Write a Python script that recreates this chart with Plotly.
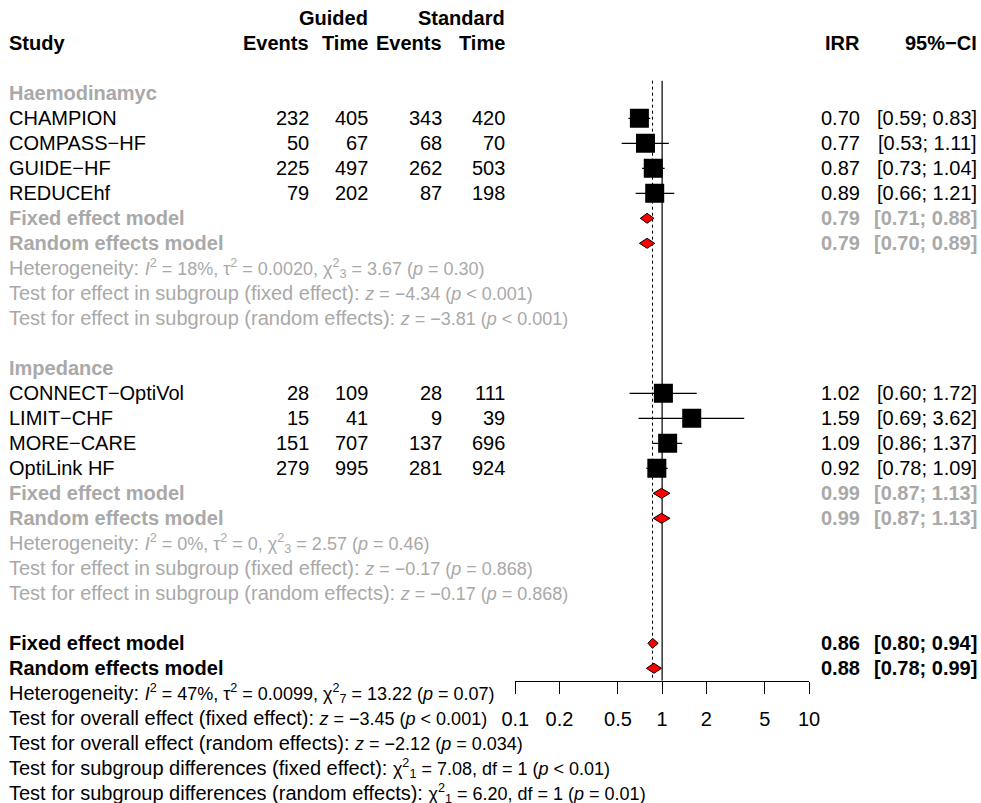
import plotly.graph_objects as go

# ---------------- data ----------------
studies = ["CHAMPION", "COMPASS−HF", "GUIDE−HF", "REDUCEhf",
           "CONNECT−OptiVol", "LIMIT−CHF", "MORE−CARE", "OptiLink HF"]
subgroup = ["Haemodinamyc"] * 4 + ["Impedance"] * 4
events_guided = [232, 50, 225, 79, 28, 15, 151, 279]
time_guided = [405, 67, 497, 202, 109, 41, 707, 995]
events_standard = [343, 68, 262, 87, 28, 9, 137, 281]
time_standard = [420, 70, 503, 198, 111, 39, 696, 924]
irr = [0.70, 0.77, 0.87, 0.89, 1.02, 1.59, 1.09, 0.92]
ci_low = [0.59, 0.53, 0.73, 0.66, 0.60, 0.69, 0.86, 0.78]
ci_high = [0.83, 1.11, 1.04, 1.21, 1.72, 3.62, 1.37, 1.09]

subgroups = ["Haemodinamyc", "Impedance"]
sub_fixed = [(0.79, 0.71, 0.88), (0.99, 0.87, 1.13)]
sub_random = [(0.79, 0.70, 0.89), (0.99, 0.87, 1.13)]
sub_het = [
    ("Heterogeneity:", "<i>I</i><sup>2</sup> = 18%, τ<sup>2</sup> = 0.0020, χ<sup>2</sup><sub>3</sub> = 3.67 (<i>p</i> = 0.30)"),
    ("Heterogeneity:", "<i>I</i><sup>2</sup> = 0%, τ<sup>2</sup> = 0, χ<sup>2</sup><sub>3</sub> = 2.57 (<i>p</i> = 0.46)"),
]
sub_test_fixed = [
    ("Test for effect in subgroup (fixed effect):", "<i>z</i> = −4.34 (<i>p</i> < 0.001)"),
    ("Test for effect in subgroup (fixed effect):", "<i>z</i> = −0.17 (<i>p</i> = 0.868)"),
]
sub_test_random = [
    ("Test for effect in subgroup (random effects):", "<i>z</i> = −3.81 (<i>p</i> < 0.001)"),
    ("Test for effect in subgroup (random effects):", "<i>z</i> = −0.17 (<i>p</i> = 0.868)"),
]
overall_fixed = (0.86, 0.80, 0.94)
overall_random = (0.88, 0.78, 0.99)
overall_text = [
    ("Heterogeneity:", "<i>I</i><sup>2</sup> = 47%, τ<sup>2</sup> = 0.0099, χ<sup>2</sup><sub>7</sub> = 13.22 (<i>p</i> = 0.07)"),
    ("Test for overall effect (fixed effect):", "<i>z</i> = −3.45 (<i>p</i> < 0.001)"),
    ("Test for overall effect (random effects):", "<i>z</i> = −2.12 (<i>p</i> = 0.034)"),
    ("Test for subgroup differences (fixed effect):", "χ<sup>2</sup><sub>1</sub> = 7.08, df = 1 (<i>p</i> < 0.01)"),
    ("Test for subgroup differences (random effects):", "χ<sup>2</sup><sub>1</sub> = 6.20, df = 1 (<i>p</i> = 0.01)"),
]
tick_vals = [0.1, 0.2, 0.5, 1, 2, 5, 10]
tick_text = ["0.1", "0.2", "0.5", "1", "2", "5", "10"]

# ---------------- layout helpers ----------------
W, H = 981, 803
FONT = "Liberation Sans, Arial, Helvetica, sans-serif"
FS = 20
FS_MATH = 18
GRAY = "#a9a9a9"
AXIS_Y = 680.7
ROW0 = 18.3
ROWH = 25.0


def ypx(i):
    return ROW0 + ROWH * i


annotations = []


def txt(x, row, s, anchor="left", bold=False, color="black", size=FS):
    if bold:
        s = "<b>" + s + "</b>"
    annotations.append(dict(
        x=x / W, y=1 - ypx(row) / H, xref="paper", yref="paper",
        text=s, showarrow=False, xanchor=anchor, yanchor="middle",
        borderpad=0, borderwidth=0,
        font=dict(family=FONT, size=size, color=color),
    ))


def stat_line(pair):
    label, math = pair
    return f'{label} <span style="font-size:{FS_MATH}px">{math}</span>'


X_STUDY = 9
X_EG, X_TG, X_ES, X_TS = 309, 368, 442, 505
X_IRR, X_CI = 860, 977


def ci_str(lo, hi):
    return f"[{lo:.2f}; {hi:.2f}]"


# headers
txt(X_TG, 0, "Guided", "right", True)
txt(X_TS, 0, "Standard", "right", True)
txt(X_STUDY, 1, "Study", "left", True)
txt(X_EG, 1, "Events", "right", True)
txt(X_TG, 1, "Time", "right", True)
txt(X_ES, 1, "Events", "right", True)
txt(X_TS, 1, "Time", "right", True)
txt(X_IRR, 1, "IRR", "right", True)
txt(X_CI, 1, "95%−CI", "right", True)

study_rows = []
diamonds = []  # (est, row)
row = 3
for g, name in enumerate(subgroups):
    txt(X_STUDY, row, name, "left", True, GRAY)
    row += 1
    for k in range(len(studies)):
        if subgroup[k] != name:
            continue
        txt(X_STUDY, row, studies[k])
        txt(X_EG, row, str(events_guided[k]), "right")
        txt(X_TG, row, str(time_guided[k]), "right")
        txt(X_ES, row, str(events_standard[k]), "right")
        txt(X_TS, row, str(time_standard[k]), "right")
        txt(X_IRR, row, f"{irr[k]:.2f}", "right")
        txt(X_CI, row, ci_str(ci_low[k], ci_high[k]), "right")
        study_rows.append((k, row))
        row += 1
    for label, est in (("Fixed effect model", sub_fixed[g]), ("Random effects model", sub_random[g])):
        txt(X_STUDY, row, label, "left", True, GRAY)
        txt(X_IRR, row, f"{est[0]:.2f}", "right", True, GRAY)
        txt(X_CI, row, ci_str(est[1], est[2]), "right", True, GRAY)
        diamonds.append((est, row))
        row += 1
    for s in (sub_het[g], sub_test_fixed[g], sub_test_random[g]):
        txt(X_STUDY, row, stat_line(s), "left", False, GRAY)
        row += 1
    row += 1

for label, est in (("Fixed effect model", overall_fixed), ("Random effects model", overall_random)):
    txt(X_STUDY, row, label, "left", True)
    txt(X_IRR, row, f"{est[0]:.2f}", "right", True)
    txt(X_CI, row, ci_str(est[1], est[2]), "right", True)
    diamonds.append((est, row))
    row += 1
for s in overall_text:
    txt(X_STUDY, row, stat_line(s), "left")
    row += 1

# ---------------- figure ----------------
fig = go.Figure()

top_line = 80.7
fig.add_trace(go.Scatter(x=[1, 1], y=[top_line, AXIS_Y], mode="lines",
                         line=dict(color="#333333", width=1.5), hoverinfo="skip"))
fig.add_trace(go.Scatter(x=[overall_fixed[0]] * 2, y=[top_line, AXIS_Y], mode="lines",
                         line=dict(color="black", width=1, dash="dot"), hoverinfo="skip"))

cx, cy = [], []
for k, r in study_rows:
    cx += [ci_low[k], ci_high[k], None]
    cy += [ypx(r), ypx(r), None]
fig.add_trace(go.Scatter(x=cx, y=cy, mode="lines", line=dict(color="black", width=1.2),
                         hoverinfo="skip"))
fig.add_trace(go.Scatter(x=[irr[k] for k, r in study_rows], y=[ypx(r) for k, r in study_rows],
                         mode="markers", marker=dict(symbol="square", size=19, color="black",
                                                     line=dict(width=0)),
                         hoverinfo="skip"))
for est, r in diamonds:
    y0 = ypx(r)
    fig.add_trace(go.Scatter(x=[est[1], est[0], est[2], est[0], est[1]],
                             y=[y0, y0 - 5, y0, y0 + 5, y0], mode="lines", fill="toself",
                             fillcolor="#ff0000", line=dict(color="black", width=1),
                             hoverinfo="skip"))

fig.update_layout(
    width=W, height=H, margin=dict(l=0, r=0, t=0, b=0, pad=0, autoexpand=False),
    plot_bgcolor="white", paper_bgcolor="white", showlegend=False,
    annotations=annotations,
    xaxis=dict(type="log", range=[-1, 1], domain=[515.3 / W, 809 / W], automargin=False,
               showgrid=False, zeroline=False, showline=True, linecolor="black", linewidth=1,
               ticks="outside", ticklen=12, tickwidth=1, tickcolor="black",
               tickvals=tick_vals, ticktext=tick_text, ticklabelstandoff=8,
               tickfont=dict(family=FONT, size=FS, color="black"), anchor="y"),
    yaxis=dict(range=[AXIS_Y, 0], domain=[(H - AXIS_Y) / H, 1], visible=False, automargin=False,
               showgrid=False, zeroline=False),
)

fig.write_html("out.html", config={"displayModeBar": False},
               post_script="document.body.style.margin='0';document.body.style.overflow='hidden';")
